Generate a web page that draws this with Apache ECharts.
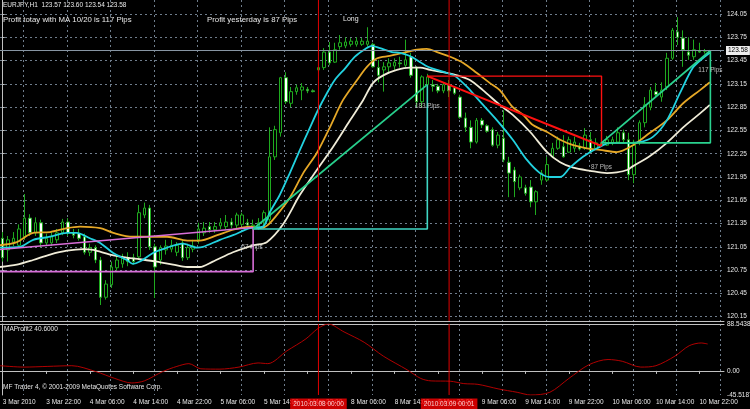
<!DOCTYPE html>
<html><head><meta charset="utf-8">
<script src="https://cdn.jsdelivr.net/npm/echarts@6/dist/echarts.min.js"></script>
<style>html,body{margin:0;padding:0;background:#000}#c{width:750px;height:409px}</style>
</head><body><div id="c"></div>
<script>
// ---- time axis labels (one every 8 hourly bars) ----
const timeLabels = ['3 Mar 2010','3 Mar 22:00','4 Mar 06:00','4 Mar 14:00','4 Mar 22:00','5 Mar 06:00','5 Mar 14:00','5 Mar 22:00','8 Mar 06:00','8 Mar 14:00','8 Mar 22:00','9 Mar 06:00','9 Mar 14:00','9 Mar 22:00','10 Mar 06:00','10 Mar 14:00','10 Mar 22:00'];
// ---- hourly candles [open, close, low, high] ----
const ohlc = [
[121.16,120.91,120.86,121.24],[121.01,121.14,120.86,121.19],[121.11,121.16,121.06,121.24],[121.07,121.28,121.04,121.34],[121.18,121.42,121.14,121.73],
[121.42,121.23,121.19,121.47],[121.23,121.36,121.19,121.43],[121.36,121.10,121.04,121.40],[121.10,121.16,121.06,121.22],[121.10,121.18,121.06,121.24],
[121.14,121.23,121.10,121.28],[121.23,121.37,121.20,121.41],[121.37,121.23,121.19,121.42],[121.23,121.20,121.16,121.28],[121.22,121.16,121.13,121.28],
[121.18,120.98,120.95,121.22],[120.98,121.04,120.93,121.09],[121.04,120.88,120.84,121.07],[120.88,120.40,120.30,120.92],[120.40,120.57,120.37,120.62],
[120.56,120.79,120.52,120.86],[120.78,120.88,120.73,120.95],[120.83,120.91,120.78,120.96],[120.91,120.86,120.80,120.98],[120.91,120.86,120.82,120.96],
[120.92,121.49,120.88,121.59],[121.46,121.55,121.42,121.62],[121.55,121.05,121.01,121.59],[121.05,120.79,120.39,121.09],[120.88,121.04,120.82,121.07],
[121.01,121.06,120.95,121.14],[121.02,121.07,120.98,121.14],[120.98,121.07,120.93,121.11],[121.10,120.91,120.87,121.14],[120.91,121.04,120.88,121.09],
[121.02,121.06,120.98,121.14],[121.14,121.28,121.09,121.36],[121.23,121.29,121.19,121.37],[121.31,121.27,121.23,121.37],[121.27,121.31,121.23,121.37],
[121.32,121.36,121.28,121.42],[121.31,121.37,121.28,121.46],[121.37,121.33,121.29,121.42],[121.33,121.46,121.29,121.49],[121.34,121.46,121.32,121.49],
[121.36,121.33,121.29,121.41],[121.32,121.33,121.27,121.40],[121.31,121.36,121.27,121.42],[121.37,121.49,121.33,121.52],[121.40,122.21,121.37,122.59],
[122.21,122.56,122.17,122.61],[122.52,123.23,122.47,123.24],[123.23,122.92,122.89,123.30],[122.90,123.05,122.85,123.11],[123.05,123.10,123.01,123.14],
[123.07,123.11,122.94,123.16],[123.08,123.06,123.03,123.11],[123.06,123.05,123.04,123.08],[123.33,123.36,123.30,123.37],[123.36,123.56,123.33,123.61],
[123.56,123.42,123.39,123.69],[123.43,123.59,123.42,123.68],[123.63,123.68,123.59,123.78],[123.64,123.69,123.61,123.75],[123.66,123.70,123.63,123.74],
[123.66,123.70,123.63,123.75],[123.66,123.70,123.64,123.74],[123.66,123.70,123.63,123.88],[123.66,123.37,123.36,123.68],[123.36,123.26,123.17,123.46],
[123.33,123.37,123.05,123.43],[123.37,123.42,123.29,123.48],[123.38,123.43,123.33,123.48],[123.42,123.41,123.36,123.50],[123.39,123.46,123.36,123.72],
[123.50,123.26,123.23,123.55],[123.36,122.92,122.85,123.38],[122.92,123.24,122.85,123.26],[123.14,123.24,123.10,123.28],[123.14,123.12,123.05,123.20],
[123.12,123.06,123.03,123.15],[123.06,123.14,123.03,123.17],[123.14,123.06,122.98,123.20],[123.10,123.03,123.01,123.12],[122.98,122.72,122.70,123.01],
[122.71,122.59,122.53,122.78],[122.59,122.40,122.32,122.68],[122.40,122.68,122.38,122.71],[122.68,122.62,122.58,122.71],[122.61,122.54,122.52,122.63],
[122.56,122.36,122.34,122.59],[122.36,122.49,122.32,122.53],[122.45,122.17,122.14,122.81],[122.14,122.00,121.69,122.21],[122.04,121.89,121.69,122.08],
[121.81,121.95,121.78,121.98],[121.81,121.74,121.71,121.85],[121.82,121.63,121.56,121.91],[121.63,121.76,121.46,121.78],[121.91,122.00,121.85,122.04],
[121.91,122.11,121.89,122.21],[122.21,122.32,122.20,122.39],[122.32,122.43,122.30,122.47],[122.34,122.21,122.20,122.49],[122.27,122.43,122.26,122.47],
[122.32,122.40,122.27,122.47],[122.35,122.31,122.29,122.39],[122.32,122.49,122.30,122.58],[122.43,122.27,122.26,122.53],[122.32,122.39,122.30,122.45],
[122.39,122.36,122.34,122.41],[122.36,122.43,122.35,122.48],[122.39,122.43,122.36,122.47],[122.40,122.52,122.39,122.59],[122.52,122.43,122.39,122.56],
[122.43,121.98,121.91,122.52],[121.98,122.36,121.87,122.43],[122.39,122.65,122.36,122.68],[122.65,122.88,122.59,122.98],[122.85,123.07,122.81,123.11],
[123.05,123.01,122.98,123.16],[122.98,123.07,122.92,123.17],[123.11,123.48,123.07,123.55],[123.48,123.84,123.46,123.87],[123.82,123.75,123.65,124.01],
[123.74,123.59,123.37,123.84],[123.56,123.52,123.46,123.75],[123.50,123.59,123.46,123.72],[123.57,123.56,123.55,123.68],[123.57,123.58,123.54,123.60]
];
// ---- moving averages [bar, price] ----
const maFast = [[-0.5,121.04],[3.2,121.05],[5.6,121.14],[8.7,121.18],[11.8,121.23],[13.6,121.23],[16.0,121.16],[17.9,121.10],[20.3,120.97],[22.8,120.88],[23.9,120.83],[25.2,120.86],[27.6,120.97],[30.2,121.04],[33.1,121.09],[35.7,121.04],[36.8,121.05],[39.9,121.14],[42.3,121.20],[45.4,121.29],[47.8,121.31],[49.1,121.50],[50.9,121.72],[52.8,122.01],[54.6,122.30],[56.4,122.58],[57.9,122.81],[59.4,123.01],[61.0,123.20],[62.9,123.35],[64.7,123.50],[66.6,123.60],[67.8,123.64],[69.3,123.61],[71.5,123.56],[73.0,123.55],[74.8,123.51],[76.7,123.43],[78.1,123.37],[79.8,123.33],[81.6,123.29],[83.1,123.25],[85.3,123.11],[87.7,122.92],[90.8,122.68],[93.7,122.43],[96.3,122.17],[98.7,122.00],[100.5,121.95],[102.4,121.95],[104.2,122.07],[106.6,122.21],[109.2,122.32],[111.6,122.39],[114.7,122.39],[117.1,122.40],[119.5,122.47],[122.0,122.68],[124.4,123.03],[126.8,123.36],[128.6,123.48],[129.9,123.55]];
const maMid = [[-0.5,121.07],[2.6,121.11],[5.6,121.23],[8.7,121.24],[11.8,121.29],[14.2,121.31],[17.9,121.29],[20.3,121.23],[23.9,121.18],[27.1,121.18],[30.2,121.18],[33.9,121.13],[36.2,121.13],[39.4,121.20],[42.3,121.27],[45.4,121.31],[47.3,121.29],[48.5,121.32],[50.0,121.43],[52.8,121.69],[55.2,122.00],[57.7,122.26],[60.1,122.59],[62.5,122.94],[65.1,123.20],[66.9,123.37],[68.8,123.48],[71.1,123.51],[73.5,123.55],[76.1,123.59],[77.9,123.60],[79.8,123.56],[82.2,123.50],[84.6,123.42],[87.1,123.29],[89.5,123.16],[91.3,123.07],[93.7,122.85],[95.6,122.75],[97.4,122.62],[100.0,122.53],[102.4,122.43],[104.8,122.36],[107.3,122.32],[109.7,122.30],[112.8,122.27],[115.8,122.36],[118.9,122.52],[122.0,122.68],[125.0,122.90],[128.1,123.07],[129.9,123.17]];
const maSlow = [[-0.5,120.79],[2.6,120.82],[5.6,120.88],[8.7,120.95],[11.8,121.00],[14.8,121.02],[16.6,121.01],[19.7,120.95],[22.8,120.91],[25.2,120.89],[28.3,120.86],[31.3,120.82],[33.9,120.79],[36.2,120.79],[38.6,120.86],[42.3,120.98],[46.0,121.07],[48.5,121.11],[51.5,121.34],[54.6,121.72],[57.7,122.04],[60.7,122.34],[63.8,122.68],[66.2,122.94],[68.0,123.16],[69.9,123.26],[72.4,123.33],[74.8,123.36],[76.7,123.36],[78.5,123.33],[80.9,123.30],[83.5,123.26],[85.8,123.20],[88.2,123.07],[91.3,122.88],[93.7,122.75],[96.9,122.53],[100.0,122.27],[102.4,122.14],[104.8,122.07],[107.9,122.03],[111.0,122.00],[112.8,122.01],[114.7,122.04],[115.8,122.09],[118.9,122.22],[122.0,122.39],[125.0,122.59],[128.1,122.77],[129.9,122.88]];
// ---- MAProfit2 indicator [bar, value] ----
const maProfit = [[-0.5,9.8],[3.9,7.2],[8.3,8.5],[12.7,9.8],[17.1,-1.3],[20.6,-14.3],[23.7,-22.8],[26.0,-18.9],[29.4,-1.3],[32.0,8.5],[34.2,13.7],[36.4,3.9],[39.9,3.3],[43.4,7.2],[46.9,15.0],[48.7,13.7],[52.2,37.8],[55.7,60.5],[57.9,80.0],[59.8,88.5],[62.7,73.6],[66.4,54.0],[69.9,28.0],[74.3,2.0],[76.8,-14.3],[78.7,-18.9],[82.2,-19.5],[84.7,-24.0],[87.3,-25.4],[91.0,-33.9],[94.5,-40.4],[97.0,-45.5],[100.5,-40.4],[104.0,-14.3],[107.7,11.7],[111.2,21.5],[113.8,18.2],[117.2,7.2],[120.0,9.8],[123.5,28.0],[126.1,47.5],[128.3,52.7],[129.5,50.8]];
// ---- axis ranges and ticks ----
const priceMin = 120.094, priceMax = 124.231;
const subMin = -45.5187, subMax = 88.5438;
const priceTicks = [120.15,120.45,120.75,121.05,121.35,121.65,121.95,122.25,122.55,122.85,123.15,123.45,123.75,124.05];
const subTicks = [-45.5187,0,88.5438];
const gridBars = [3.8,11.8,19.8,27.8,35.8,43.8,51.8,59.8,67.8,75.8,83.8,91.8,99.8,107.8,115.8,123.8,131.8];
// ---- trade objects: [start [bar, price], end [bar, price]] ----
const pinkTrade = [[-47,120.73],[46,121.30]];
const tealTrade = [[46,121.28],[78,123.14]];
const redTrade = [[78,123.25],[110,122.35]];
const greenTrade = [[110,122.39],[130,123.58]];
const pipLabels = [[45.8,121.05,'57 Pips'],[78,122.86,'183 Pips'],[110,122.08,'87 Pips'],[130,123.32,'117 Pips']];
const vLines = [[58,'2010.03.08 00:00'],[82,'2010.03.09 00:01']];
const lastPrice = 123.58;

const FONT = 'Liberation Sans, Arial, sans-serif';
const TXT = '#e8e8e8';
const GRIDC = '#6f7d8c';
const AXC = '#c0c0c0';
const VRED = '#e00000';
const categories = Array.from({length:133}, (_, i) => String(i));
function box(t){ return [[t[0][0],t[0][1]],[t[1][0],t[0][1]],[t[1][0],t[1][1]]]; }
function ln(data, color, width, extra){
  return Object.assign({type:'line', data, xAxisIndex:1, yAxisIndex:0, showSymbol:false, symbol:'none',
    lineStyle:{color, width}, itemStyle:{color}, silent:true, z:4, animation:false}, extra || {});
}
const dash = {show:true, lineStyle:{color:GRIDC, type:[2,3], width:1}};
const tStyle = (s) => ({fontSize:s, color:TXT, fontWeight:'normal', fontFamily:FONT});

// vertical time lines as two-point line series spanning each panel's value range
function vLineSeries(v, panel){
  const main = panel === 0;
  return {type:'line', xAxisIndex: main ? 1 : 3, yAxisIndex: main ? 0 : 1,
    data: main ? [[v[0], priceMin], [v[0], priceMax]] : [[v[0], subMin], [v[0], subMax]],
    showSymbol:false, symbol:'none', silent:true, z:5, clip:false,
    lineStyle:{color:VRED, width:1}, itemStyle:{color:VRED}};
}
// label boxes of the vertical lines, under the bottom panel
const vLabelSeries = {type:'scatter', xAxisIndex:3, yAxisIndex:1,
  data: vLines.map(v => [v[0], subMin, v[1]]), symbolSize:1, silent:true, z:6, itemStyle:{color:'rgba(0,0,0,0)'},
  label:{show:true, position:'bottom', distance:3, formatter:(p) => p.value[2], fontSize:6.5,
    color:'#ffffff', backgroundColor:'#ff0000', padding:[2,3,2,3]}};

const chart = echarts.init(document.getElementById('c'));
chart.setOption({
  backgroundColor:'#000',
  animation:false,
  textStyle:{fontFamily:FONT},
  title:[
    {text:'EURJPY,H1  123.57 123.60 123.54 123.58', left:3, top:2, padding:0, textStyle:tStyle(6.5)},
    {text:'Profit totay with MA 10/20 is 117 Pips', left:3, top:16, padding:0, textStyle:tStyle(7.8)},
    {text:'Profit yesterday is 87 Pips', left:207, top:16, padding:0, textStyle:tStyle(7.8)},
    {text:'Long', left:343, top:16, padding:0, textStyle:tStyle(7)},
    {text:'MAProfit2 40.6000', left:4, top:326, padding:0, textStyle:tStyle(6.5)},
    {text:'MF Trader 4, \u00a9 2001-2009 MetaQuotes Software Corp.', left:3, top:384, padding:0, textStyle:tStyle(6.5)}
  ],
  grid:[
    {left:0, right:26, top:0, height:321, containLabel:false, outerBoundsMode:'none'},
    {left:0, right:26, top:324, height:71, containLabel:false, outerBoundsMode:'none'}
  ],
  xAxis:[
    {type:'category', gridIndex:0, data:categories, boundaryGap:true, position:'bottom',
      axisLine:{show:true, lineStyle:{color:AXC}}, axisTick:{show:false}, axisLabel:{show:false}, splitLine:{show:false}},
    {type:'value', gridIndex:0, min:-0.5, max:132.5, position:'top',
      axisLine:{show:false}, axisTick:{show:false, customValues:gridBars}, axisLabel:{show:false}, splitLine:dash},
    {type:'category', gridIndex:1, data:categories, boundaryGap:true, position:'bottom',
      axisLine:{show:true, lineStyle:{color:AXC}},
      axisTick:{show:true, interval:7, alignWithLabel:true, length:3, lineStyle:{color:AXC}},
      axisLabel:{show:true, interval:7, align:'left', margin:4, fontSize:6.5, color:TXT, hideOverlap:false,
        formatter:(v) => { const i = Number(v); return i % 8 === 0 ? (timeLabels[i/8] || '') : ''; }},
      splitLine:{show:false}},
    {type:'value', gridIndex:1, min:-0.5, max:132.5, position:'top',
      axisLine:{show:true, lineStyle:{color:AXC}}, axisTick:{show:false, customValues:gridBars}, axisLabel:{show:false}, splitLine:dash}
  ],
  yAxis:[
    {type:'value', gridIndex:0, position:'right', min:priceMin, max:priceMax,
      axisLine:{show:true, lineStyle:{color:AXC}},
      axisTick:{show:true, length:2, customValues:priceTicks, lineStyle:{color:AXC}},
      axisLabel:{show:true, customValues:priceTicks, formatter:(v) => v.toFixed(2), margin:3, fontSize:6.5, color:TXT, hideOverlap:false},
      splitLine:dash},
    {type:'value', gridIndex:1, position:'right', min:subMin, max:subMax,
      axisLine:{show:true, lineStyle:{color:AXC}},
      axisTick:{show:false, customValues:[0]},
      axisLabel:{show:true, customValues:subTicks, formatter:(v) => v === 0 ? '0.00' : v.toFixed(4), margin:3, fontSize:6.5, color:TXT, hideOverlap:false},
      splitLine:dash}
  ],
  series:[
    {type:'candlestick', xAxisIndex:0, yAxisIndex:0, data:ohlc, barWidth:3, z:2, silent:true,
      itemStyle:{color:'#000000', color0:'#ffffff', borderColor:'#1faa1f', borderColor0:'#1faa1f', borderWidth:1},
      markLine:{symbol:['none','none'], silent:true, animation:false,
        data:[{yAxis:lastPrice}],
        lineStyle:{color:'#8795a3', type:'solid', width:1},
        label:{show:true, position:'end', distance:2, formatter:lastPrice.toFixed(2), fontSize:6.5, color:'#000',
          backgroundColor:'#eeeeee', padding:[1,2,1,2]}}},
    vLineSeries(vLines[0], 0),
    vLineSeries(vLines[1], 0),
    ln(maSlow, '#f0ecd8', 1.8, {smooth:0.3, z:3}),
    ln(maMid, '#e6a827', 1.8, {smooth:0.3, z:3}),
    ln(maFast, '#22d2e0', 1.8, {smooth:0.3, z:3}),
    ln(box(pinkTrade), '#d86ed8', 1.6),
    ln(pinkTrade, '#d86ed8', 1.6),
    ln(box(tealTrade), '#3fd6c4', 1.6),
    ln(tealTrade, '#27cf8c', 1.8),
    ln(box(redTrade), '#ff1010', 1.4),
    ln(redTrade, '#ff1010', 2),
    ln(box(greenTrade), '#2ad28f', 1.6),
    ln(greenTrade, '#2ad28f', 1.8),
    {type:'scatter', xAxisIndex:1, yAxisIndex:0, data:pipLabels, symbolSize:1, silent:true, z:6,
      itemStyle:{color:'rgba(0,0,0,0)'},
      label:{show:true, position:'inside', formatter:(p) => p.value[2], fontSize:6.3, color:'#e0e0e0'}},
    {type:'line', xAxisIndex:3, yAxisIndex:1, data:maProfit, showSymbol:false, symbol:'none', smooth:0.3, silent:true,
      lineStyle:{color:'#b00000', width:1}, itemStyle:{color:'#b00000'}},
    vLineSeries(vLines[0], 1),
    vLineSeries(vLines[1], 1),
    vLabelSeries
  ]
});
</script>
</body></html>
